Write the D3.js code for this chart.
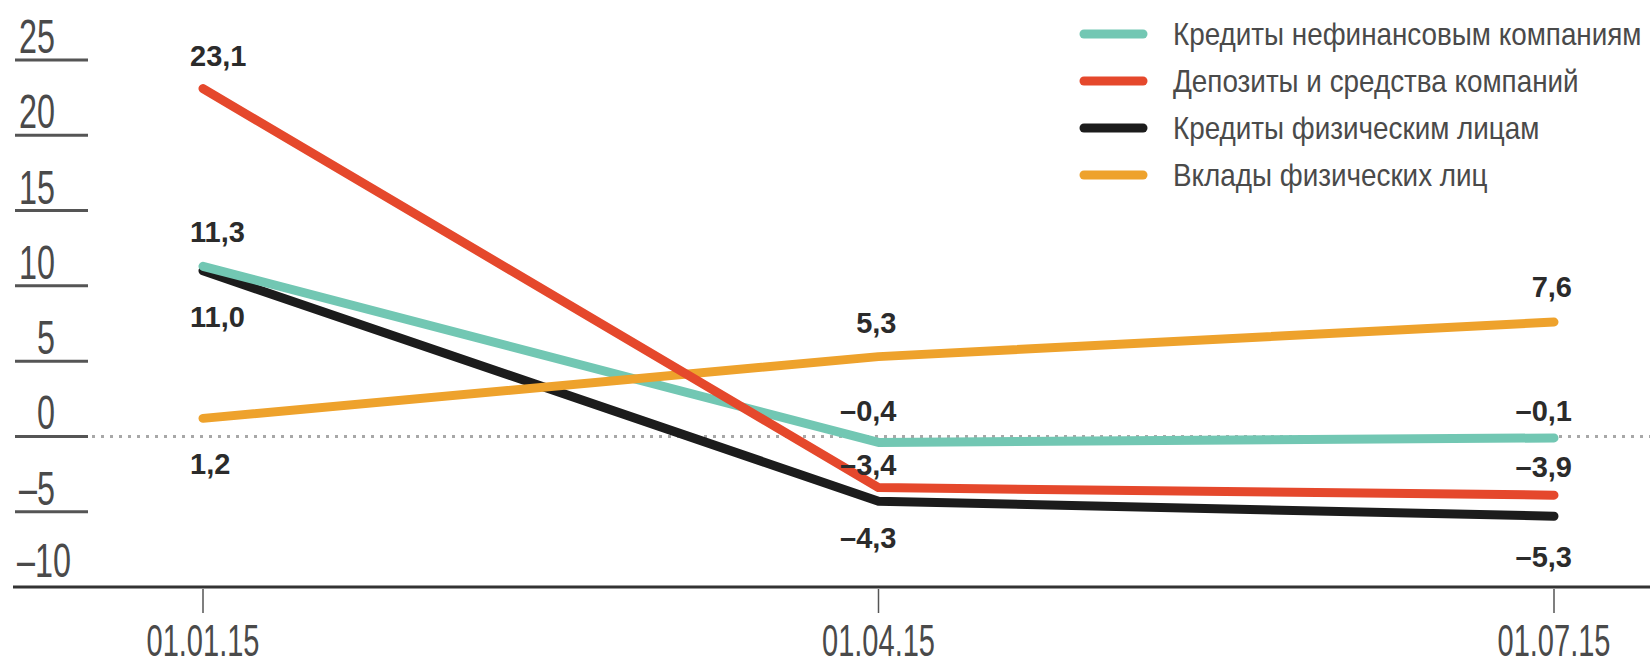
<!DOCTYPE html>
<html lang="ru">
<head>
  <meta charset="UTF-8" />
  <title>Темпы прироста</title>
  <script src="https://d3js.org/d3.v7.min.js"></script>
  <style>
    body {
      margin: 0;
      background: #fff;
    }
    svg {
      display: block;
      font-family: "Liberation Sans", Arial, sans-serif;
    }
    .tick-label { fill: #4a4a4a; }
    .value-label { fill: #2b2b2b; font-weight: bold; }
    .legend-label { fill: #4a4a4a; }
  </style>
</head>
<body>
  <svg id="chart" width="1650" height="667"></svg>

  <script>
    // --- data ---
    const DATES = ["01.01.15", "01.04.15", "01.07.15"];
    const Y_TICKS = [25, 20, 15, 10, 5, 0, -5, -10];

    const SERIES_NAMES = [
      "Кредиты нефинансовым компаниям",
      "Депозиты и средства компаний",
      "Кредиты физическим лицам",
      "Вклады физических лиц"
    ];
    const LOANS_CORP = [11.3, -0.4, -0.1];
    const DEPOSITS_CORP = [23.1, -3.4, -3.9];
    const LOANS_RETAIL = [11.0, -4.3, -5.3];
    const DEPOSITS_RETAIL = [1.2, 5.3, 7.6];

    // --- style / layout ---
    const COLORS = ["#72c7b3", "#e5482c", "#1c1c1c", "#eea22c"];
    // baseline offset of each value label from its point, px
    const LABEL_DY = [
      [-24, -21, -17],
      [-23, -13, -18],
      [56, 47, 51],
      [56, -24, -25]
    ];
    const DRAW_ORDER = [2, 0, 3, 1];

    const series = SERIES_NAMES.map((name, i) => ({
      name,
      color: COLORS[i],
      values: [LOANS_CORP, DEPOSITS_CORP, LOANS_RETAIL, DEPOSITS_RETAIL][i]
        .map((v, j) => ({ date: DATES[j], value: v }))
    }));

    const svg = d3.select("#chart");

    const x = d3.scalePoint().domain(DATES).range([203, 1554]);
    const y = d3.scaleLinear().domain([-10, 25]).range([587, 60]);

    const fmt = v => d3.format(".1f")(v).replace(".", ",").replace("-", "–").replace("−", "–");

    // y tick labels with short underlines
    const yg = svg.append("g");
    Y_TICKS.forEach((t, i) => {
      const last = i === Y_TICKS.length - 1;
      if (!last) {
        yg.append("line")
          .attr("x1", 15).attr("x2", 88)
          .attr("y1", y(t)).attr("y2", y(t))
          .attr("stroke", "#555").attr("stroke-width", 3);
      }
      yg.append("text")
        .attr("class", "tick-label")
        .attr("transform", last
          ? `translate(17,${y(t) - 10}) scale(0.66,1)`
          : `translate(55,${y(t) - 7}) scale(0.66,1)`)
        .attr("text-anchor", last ? "start" : "end")
        .attr("font-size", 49)
        .text(String(t).replace("-", "–"));
    });

    // dotted zero line
    svg.append("line")
      .attr("x1", 92).attr("x2", 1650)
      .attr("y1", y(0)).attr("y2", y(0))
      .attr("stroke", "#a8a8a8")
      .attr("stroke-width", 3)
      .attr("stroke-dasharray", "3,6");

    // x axis
    const xg = svg.append("g");
    xg.append("line")
      .attr("x1", 13).attr("x2", 1650)
      .attr("y1", y(-10)).attr("y2", y(-10))
      .attr("stroke", "#333").attr("stroke-width", 3);
    DATES.forEach(d => {
      xg.append("line")
        .attr("x1", x(d)).attr("x2", x(d))
        .attr("y1", y(-10) + 2).attr("y2", y(-10) + 26)
        .attr("stroke", "#555").attr("stroke-width", 1.5);
      xg.append("text")
        .attr("class", "tick-label")
        .attr("transform", `translate(${x(d)},656) scale(0.66,1)`)
        .attr("text-anchor", "middle")
        .attr("font-size", 44)
        .text(d);
    });

    // lines
    const line = d3.line().x(d => x(d.date)).y(d => y(d.value));
    DRAW_ORDER.forEach(i => {
      svg.append("path")
        .datum(series[i].values)
        .attr("d", line)
        .attr("fill", "none")
        .attr("stroke", series[i].color)
        .attr("stroke-width", 9)
        .attr("stroke-linecap", "round")
        .attr("stroke-linejoin", "round");
    });

    // value labels
    series.forEach((s, i) => {
      s.values.forEach((d, j) => {
        const first = j === 0;
        svg.append("text")
          .attr("class", "value-label")
          .attr("x", x(d.date) + (first ? -13 : 18))
          .attr("y", y(d.value) + LABEL_DY[i][j])
          .attr("text-anchor", first ? "start" : "end")
          .attr("font-size", 29)
          .text(fmt(d.value));
      });
    });

    // legend
    const lg = svg.append("g");
    series.forEach((s, i) => {
      const ly = 34 + i * 47;
      lg.append("line")
        .attr("x1", 1084).attr("x2", 1143)
        .attr("y1", ly).attr("y2", ly)
        .attr("stroke", s.color)
        .attr("stroke-width", 9)
        .attr("stroke-linecap", "round");
      lg.append("text")
        .attr("class", "legend-label")
        .attr("transform", `translate(1173,${ly + 11}) scale(0.87,1)`)
        .attr("font-size", 32)
        .text(s.name);
    });
  </script>
</body>
</html>
